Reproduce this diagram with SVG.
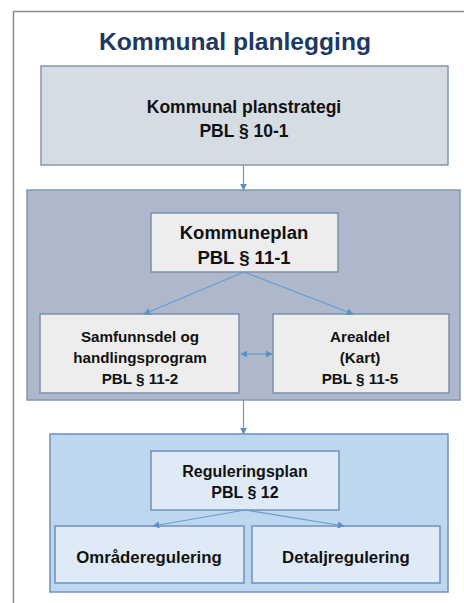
<svg xmlns="http://www.w3.org/2000/svg" width="464" height="603" viewBox="0 0 464 603">
<defs>
<marker id="ah" viewBox="0 0 10 10" refX="9" refY="5" markerWidth="7" markerHeight="7" markerUnits="userSpaceOnUse" orient="auto-start-reverse">
<path d="M0,0 L10,5 L0,10 z" fill="#5B8FC7"/>
</marker>
<style>
.t{font-family:"Liberation Sans",Arial,sans-serif;font-weight:bold;fill:#111;text-anchor:middle}
.c{stroke:#6A9AD0;stroke-width:1.2;fill:none;marker-end:url(#ah)}
</style>
</defs>
<rect width="464" height="603" fill="#fff"/>
<path d="M13.5,603 V11.5 H464" fill="none" stroke="#8a8a8a" stroke-width="1.5"/>
<text x="235" y="50" class="t" style="fill:#203864;font-size:24.6px">Kommunal planlegging</text>

<g id="strategi">
<rect x="41" y="66" width="407" height="99" fill="#D6DCE4" stroke="#8497B0" stroke-width="1.5"/>
<text x="244" y="113" class="t" font-size="17.5">Kommunal planstrategi</text>
<text x="244" y="137" class="t" font-size="17.5">PBL § 10-1</text>
</g>

<g id="kommuneplan-group">
<rect x="27" y="190" width="433" height="210" fill="#ADB9CA" stroke="#8497B0" stroke-width="1.5"/>
</g>
<g id="kommuneplan">
<rect x="151" y="213" width="187" height="59" fill="#EDEDED" stroke="#7F8FA6" stroke-width="1.5"/>
<text x="244" y="239" class="t" font-size="18.5">Kommuneplan</text>
<text x="244" y="264" class="t" font-size="18.5">PBL § 11-1</text>
</g>
<g id="samfunnsdel">
<rect x="40" y="314" width="199" height="79" fill="#EDEDED" stroke="#7F8FA6" stroke-width="1.5"/>
<text x="140" y="342" class="t" font-size="15.2">Samfunnsdel og</text>
<text x="140" y="363" class="t" font-size="15.2">handlingsprogram</text>
<text x="140" y="384" class="t" font-size="15.2">PBL § 11-2</text>
</g>
<g id="arealdel">
<rect x="273" y="314" width="176" height="79" fill="#EDEDED" stroke="#7F8FA6" stroke-width="1.5"/>
<text x="360" y="342" class="t" font-size="15.2">Arealdel</text>
<text x="360" y="363" class="t" font-size="15.2">(Kart)</text>
<text x="360" y="384" class="t" font-size="15.2">PBL § 11-5</text>
</g>

<g id="regulering-group">
<rect x="50" y="434" width="398" height="158" fill="#BDD7EE" stroke="#6F8FBF" stroke-width="1.5"/>
</g>
<g id="reguleringsplan">
<rect x="151" y="451" width="188" height="59" fill="#DEEBF7" stroke="#7090BE" stroke-width="1.5"/>
<text x="245" y="477" class="t" font-size="16">Reguleringsplan</text>
<text x="245" y="498" class="t" font-size="16">PBL § 12</text>
</g>
<g id="omraderegulering">
<rect x="55" y="526" width="189" height="57" fill="#DEEBF7" stroke="#7090BE" stroke-width="1.5"/>
<text x="149" y="563" class="t" font-size="16.8">Områderegulering</text>
</g>
<g id="detaljregulering">
<rect x="252" y="526" width="188" height="57" fill="#DEEBF7" stroke="#7090BE" stroke-width="1.5"/>
<text x="346" y="563" class="t" font-size="16.8">Detaljregulering</text>
</g>

<g id="connectors">
<path class="c" d="M243.5,165 V190"/>
<path class="c" d="M244,272 L144,314"/>
<path class="c" d="M244,272 L353,314"/>
<path class="c" d="M241,354 H272" marker-start="url(#ah)"/>
<path class="c" d="M243.5,400 V434"/>
<path class="c" d="M245,510 L153,526"/>
<path class="c" d="M245,510 L344,526"/>
</g>
</svg>
